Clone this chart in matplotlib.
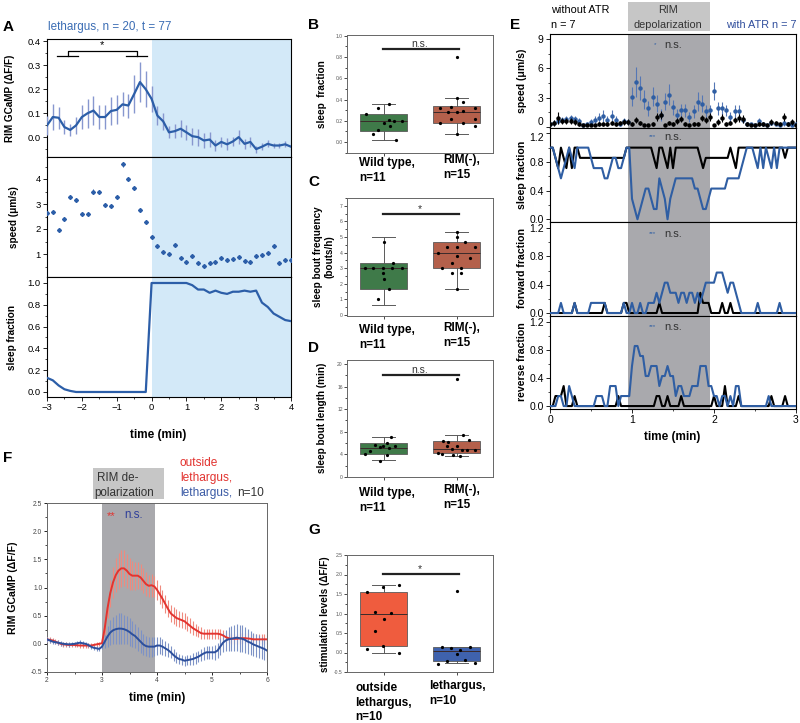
import numpy as np
import matplotlib
matplotlib.use("Agg")
import matplotlib.pyplot as plt
from matplotlib.ticker import MultipleLocator
from matplotlib.patches import Rectangle
import matplotlib.transforms as mtrans

plt.rcParams['font.family'] = ['Liberation Sans', 'DejaVu Sans']
plt.rcParams['axes.linewidth'] = 0.8
plt.rcParams['xtick.major.size'] = 3
plt.rcParams['ytick.major.size'] = 3
plt.rcParams['xtick.minor.size'] = 1.6
plt.rcParams['ytick.minor.size'] = 1.6
plt.rcParams['xtick.major.width'] = 0.6
plt.rcParams['ytick.major.width'] = 0.6
plt.rcParams['xtick.minor.width'] = 0.5
plt.rcParams['ytick.minor.width'] = 0.5

# ---------------- data ----------------
# Panel A (10 s bins, -3 .. 4 min)
time_A = np.arange(-18, 25) / 6.0
gcamp_A = [0.049, 0.084, 0.081, 0.042, 0.03, 0.049, 0.084, 0.10, 0.111, 0.084,
           0.084, 0.109, 0.114, 0.137, 0.132, 0.18, 0.23, 0.20, 0.16, 0.09,
           0.066, 0.02, 0.025, 0.035, 0.02, 0.004, 0.0, -0.014, -0.01, -0.035,
           -0.02, -0.03, -0.018, 0.0, -0.028, -0.02, -0.05, -0.04, -0.028, -0.035,
           -0.035, -0.03, -0.04]
gcamp_err_A = [0.04, 0.055, 0.045, 0.03, 0.025, 0.035, 0.05, 0.06, 0.06, 0.05,
               0.05, 0.06, 0.06, 0.05, 0.05, 0.08, 0.085, 0.075, 0.055, 0.04,
               0.035, 0.025, 0.03, 0.035, 0.03, 0.035, 0.035, 0.03, 0.03, 0.025,
               0.02, 0.025, 0.02, 0.03, 0.02, 0.02, 0.015, 0.015, 0.015, 0.012,
               0.012, 0.012, 0.012]
speed_A = [2.63, 2.67, 1.95, 2.41, 3.30, 3.17, 2.60, 2.60, 3.50, 3.48,
           2.96, 2.92, 3.30, 4.59, 4.00, 3.66, 2.75, 2.29, 1.67, 1.31,
           1.08, 0.99, 1.35, 0.85, 0.70, 0.91, 0.65, 0.54, 0.63, 0.70,
           0.84, 0.78, 0.81, 0.88, 0.74, 0.68, 0.93, 0.95, 1.05, 1.31,
           0.66, 0.78, 0.78]
speed_err_A = [0.08, 0.07, 0.07, 0.07, 0.08, 0.08, 0.07, 0.07, 0.09, 0.09,
               0.07, 0.07, 0.08, 0.10, 0.09, 0.08, 0.07, 0.06, 0.05, 0.04,
               0.04, 0.04, 0.05, 0.04, 0.03, 0.04, 0.03, 0.03, 0.03, 0.03,
               0.03, 0.03, 0.03, 0.04, 0.03, 0.03, 0.04, 0.04, 0.04, 0.06,
               0.03, 0.03, 0.03]
sleep_A = [0.13, 0.107, 0.06, 0.025, 0.01, 0, 0, 0, 0, 0,
           0, 0, 0, 0, 0, 0, 0, 0, 1.0, 1.0,
           1.0, 1.0, 1.0, 1.0, 1.0, 0.98, 0.94, 0.94, 0.91, 0.93,
           0.91, 0.90, 0.92, 0.92, 0.93, 0.92, 0.93, 0.82, 0.78, 0.72,
           0.69, 0.66, 0.65]
sig_A_left = [-2.71, -2.11]
sig_A_right = [-0.73, -0.13]
sig_A_y = [0.34, 0.36]

# Panels B, C, D (Wild type vs RIM(-)), G (outside lethargus vs lethargus)
groups_BCD = ["Wild type,\nn=11", "RIM(-),\nn=15"]
groups_G = ["outside\nlethargus,\nn=10", "lethargus,\nn=10"]

wt_B = [0.26, 0.32, 0.36, 0.08, 0.11, 0.18, 0.21, 0.02, 0.20, 0.15, 0.20]
rim_B = [0.32, 0.33, 0.38, 0.32, 0.18, 0.22, 0.28, 0.29, 0.18, 0.22, 0.15, 0.08, 0.80, 0.28, 0.41]
box_B = [dict(q1=0.10, med=0.20, q3=0.26, whislo=0.02, whishi=0.36),
         dict(q1=0.18, med=0.28, q3=0.34, whislo=0.08, whishi=0.41)]

wt_C = [4.67, 3.33, 3.0, 3.0, 3.0, 3.0, 3.0, 2.67, 2.33, 1.67, 1.0]
rim_C = [5.33, 5.0, 4.67, 4.33, 4.33, 4.33, 4.0, 3.78, 3.67, 3.33, 3.0, 3.0, 2.67, 2.67, 1.67]
box_C = [dict(q1=1.67, med=3.0, q3=3.33, whislo=0.67, whishi=5.0),
         dict(q1=3.0, med=4.0, q3=4.67, whislo=1.67, whishi=5.33)]

wt_D = [7.0, 4.15, 4.6, 5.6, 5.3, 5.45, 6.05, 5.2, 5.55, 2.85, 3.85]
rim_D = [7.4, 6.35, 6.2, 6.5, 5.4, 5.0, 5.4, 4.75, 4.75, 4.75, 4.2, 4.0, 3.9, 3.7, 17.3]
box_D = [dict(q1=4.1, med=5.2, q3=6.1, whislo=3.0, whishi=7.1),
         dict(q1=4.2, med=5.0, q3=6.4, whislo=3.7, whishi=7.5)]

out_G = [1.73, 1.69, 1.55, 1.03, 1.01, 0.86, 0.54, 0.17, 0.08, 0.0]
leth_G = [0.15, 0.12, 0.15, 0.06, -0.03, -0.18, -0.23, -0.29, -0.27, 1.58]
box_G = [dict(q1=0.17, med=1.0, q3=1.55, whislo=0.0, whishi=1.73),
         dict(q1=-0.21, med=0.03, q3=0.15, whislo=-0.27, whishi=0.15)]

sig_B, sig_C, sig_D, sig_G = 0.88, 6.45, 18.1, 2.02

# Panel E: speed (3 s bins) and fractions (2 s bins, counts out of n = 7)
time_E_speed = np.arange(61) * 0.05
time_E_frac = np.arange(91) / 30.0
n_E = 7
speed_atr = [0.3, 0.4, 0.6, 0.7, 0.8, 0.9, 0.8, 0.6, 0.2, 0.3,
             0.55, 0.7, 0.9, 1.1, 0.7, 1.1, 0.7, 0.3, 0.6, 0.5,
             3.1, 4.6, 4.0, 2.8, 1.9, 3.1, 2.4, 1.2, 2.6, 3.3,
             2.0, 1.2, 1.7, 1.7, 1.0, 1.6, 2.6, 2.4, 1.6, 1.7,
             3.7, 1.9, 1.9, 1.7, 1.0, 1.6, 1.6, 0.7, 0.3, 0.3,
             0.2, 0.6, 0.3, 0.2, 0.4, 0.3, 0.2, 0.45, 0.3, 0.2, 0.3]
speed_atr_err = [0.2, 0.3, 0.3, 0.3, 0.3, 0.3, 0.3, 0.3, 0.1, 0.2,
                 0.3, 0.4, 0.5, 0.6, 0.4, 0.6, 0.4, 0.2, 0.3, 0.3,
                 1.0, 1.5, 1.2, 1.0, 0.8, 1.0, 0.9, 0.6, 0.9, 1.1,
                 0.8, 0.6, 0.7, 0.7, 0.5, 0.7, 1.0, 0.9, 0.6, 0.6,
                 0.9, 0.7, 0.7, 0.6, 0.5, 0.6, 0.6, 0.3, 0.1, 0.1,
                 0.1, 0.3, 0.1, 0.1, 0.2, 0.1, 0.1, 0.3, 0.1, 0.1, 0.1]
speed_noatr = [0.3, 0.4, 0.9, 0.6, 0.6, 0.6, 0.5, 0.3, 0.2, 0.2,
               0.2, 0.2, 0.3, 0.3, 0.3, 0.4, 0.3, 0.4, 0.5, 0.5,
               0.3, 0.7, 0.4, 0.2, 0.2, 0.3, 1.0, 1.2, 0.2, 0.4,
               0.3, 0.6, 0.8, 0.3, 0.2, 0.3, 0.3, 0.9, 0.7, 1.0,
               0.2, 0.5, 0.9, 0.3, 0.4, 0.7, 0.9, 0.8, 0.3, 0.2,
               0.2, 0.3, 0.3, 0.2, 0.5, 0.4, 0.3, 1.0, 0.3, 0.5, 0.2]
speed_noatr_err = [0.2, 0.3, 0.6, 0.3, 0.3, 0.3, 0.3, 0.2, 0.1, 0.1,
                   0.1, 0.1, 0.2, 0.2, 0.2, 0.2, 0.2, 0.2, 0.3, 0.3,
                   0.2, 0.3, 0.2, 0.1, 0.1, 0.2, 0.4, 0.4, 0.1, 0.2,
                   0.2, 0.3, 0.3, 0.2, 0.1, 0.2, 0.2, 0.3, 0.3, 0.4,
                   0.1, 0.3, 0.4, 0.2, 0.2, 0.3, 0.4, 0.4, 0.2, 0.1,
                   0.1, 0.2, 0.2, 0.1, 0.3, 0.2, 0.2, 0.4, 0.2, 0.3, 0.1]
sleep_noatr_n = [7, 7, 6, 5, 7, 6, 5, 7, 5, 7,
                 7, 6, 6, 6, 6, 6, 6, 6, 6, 6,
                 6, 6, 6, 6, 6, 6, 6, 6, 7, 7,
                 7, 7, 7, 7, 7, 7, 7, 7, 6, 5,
                 7, 7, 6, 5, 7, 5, 7, 7, 7, 7,
                 7, 7, 7, 7, 7, 6, 5, 6, 6, 6,
                 6, 6, 6, 6, 6, 6, 7, 6, 5, 7,
                 7, 7, 7, 7, 7, 7, 7, 7, 7, 7,
                 7, 7, 7, 7, 7, 7, 6, 7, 7, 7, 7]
sleep_atr_n = [7, 7, 6, 5, 4, 5, 6, 7, 6, 5,
               7, 7, 7, 7, 7, 6, 5, 5, 5, 5,
               4, 4, 5, 6, 6, 5, 5, 6, 7, 7,
               2, 1, 0, 1, 2, 3, 3, 2, 1, 1,
               4, 3, 2, 0, 2, 3, 4, 4, 4, 4,
               4, 4, 4, 3, 3, 2, 1, 1, 2, 3,
               3, 3, 3, 3, 3, 4, 4, 4, 4, 4,
               5, 6, 7, 7, 7, 6, 5, 7, 5, 7,
               6, 5, 7, 5, 7, 7, 7, 7, 7, 7, 7]
fwd_noatr_n = [0, 0, 0, 0, 0, 0, 0, 0, 0, 1,
               0, 0, 0, 0, 0, 0, 0, 0, 0, 0,
               1, 0, 0, 0, 0, 0, 0, 1, 1, 0,
               0, 0, 0, 0, 0, 0, 0, 0, 0, 0,
               1, 0, 0, 0, 0, 0, 0, 0, 0, 0,
               0, 0, 0, 0, 0, 2, 1, 1, 1, 0,
               0, 0, 0, 1, 0, 0, 1, 0, 0, 0,
               0, 0, 0, 0, 0, 0, 0, 0, 0, 0,
               0, 0, 0, 0, 0, 0, 0, 0, 0, 0, 0]
fwd_atr_n = [0, 0, 0, 0, 1, 0, 0, 0, 0, 1,
             0, 0, 0, 0, 0, 1, 1, 1, 1, 1,
             1, 0, 0, 0, 0, 0, 0, 1, 0, 0,
             1, 0, 0, 1, 0, 0, 1, 1, 1, 2,
             1, 2, 3, 3, 2, 2, 2, 1, 2, 2,
             1, 2, 2, 1, 2, 1, 2, 3, 3, 3,
             3, 4, 4, 4, 3, 2, 3, 3, 2, 1,
             0, 0, 0, 0, 0, 0, 1, 0, 0, 0,
             0, 0, 0, 0, 1, 0, 0, 0, 0, 0, 0]
rev_noatr_n = [0, 0, 1, 1, 1, 2, 0, 0, 0, 1,
               0, 0, 0, 0, 0, 0, 0, 0, 0, 0,
               0, 0, 0, 0, 0, 1, 0, 0, 0, 0,
               0, 0, 0, 0, 0, 0, 0, 0, 0, 1,
               1, 0, 0, 1, 0, 0, 0, 0, 1, 0,
               0, 0, 0, 0, 0, 0, 0, 0, 0, 0,
               1, 0, 0, 0, 2, 0, 0, 0, 0, 1,
               0, 0, 0, 0, 0, 0, 0, 0, 0, 0,
               0, 1, 0, 0, 0, 0, 1, 0, 0, 0, 0]
rev_atr_n = [0, 0, 0, 1, 1, 0, 0, 2, 1, 0,
             0, 0, 0, 0, 0, 0, 0, 1, 1, 1,
             0, 0, 2, 2, 2, 0, 1, 1, 1, 1,
             4, 6, 6, 5, 5, 3, 3, 4, 4, 4,
             2, 3, 3, 4, 3, 3, 1, 2, 2, 1,
             1, 1, 2, 2, 2, 4, 4, 4, 2, 2,
             1, 1, 0, 1, 1, 0, 1, 0, 2, 2,
             0, 0, 0, 0, 0, 0, 0, 0, 0, 0,
             1, 0, 0, 0, 0, 0, 0, 0, 0, 0, 0]
stim_E = [0.95, 1.95]
speed_ticks_E = [0, 3, 6, 9]
frac_ticks_E = [0.0, 0.4, 0.8, 1.2]

# Panel F (3 s bins, 2 .. 6 min)
time_F = np.round(np.arange(81) * 0.05 + 2.0, 3)
gcamp_out = [0.08, 0.07, 0.06, 0.04, 0.02, 0.00, -0.01, -0.015, -0.02, -0.02,
             -0.02, -0.025, -0.03, -0.03, -0.03, -0.03, -0.03, -0.02, -0.01, 0.0,
             0.01, 0.28, 0.63, 0.90, 1.09, 1.22, 1.30, 1.34, 1.34, 1.30,
             1.24, 1.21, 1.21, 1.21, 1.18, 1.12, 1.06, 1.03, 1.04, 1.02,
             0.96, 0.88, 0.80, 0.71, 0.62, 0.54, 0.50, 0.46, 0.44, 0.42,
             0.40, 0.36, 0.32, 0.28, 0.25, 0.22, 0.19, 0.18, 0.18, 0.18,
             0.18, 0.18, 0.18, 0.17, 0.15, 0.12, 0.10, 0.09, 0.09, 0.09,
             0.095, 0.10, 0.10, 0.095, 0.09, 0.08, 0.08, 0.08, 0.08, 0.08, 0.08]
gcamp_out_err = [0.05, 0.05, 0.05, 0.04, 0.04, 0.04, 0.04, 0.04, 0.04, 0.04,
                 0.04, 0.04, 0.04, 0.04, 0.04, 0.04, 0.04, 0.04, 0.04, 0.04,
                 0.05, 0.12, 0.18, 0.24, 0.28, 0.30, 0.32, 0.33, 0.32, 0.30,
                 0.28, 0.26, 0.25, 0.24, 0.23, 0.22, 0.21, 0.20, 0.20, 0.19,
                 0.18, 0.17, 0.16, 0.16, 0.15, 0.15, 0.15, 0.15, 0.14, 0.14,
                 0.14, 0.13, 0.13, 0.12, 0.11, 0.10, 0.10, 0.09, 0.09, 0.09,
                 0.09, 0.09, 0.09, 0.09, 0.09, 0.09, 0.09, 0.09, 0.09, 0.09,
                 0.09, 0.09, 0.09, 0.09, 0.09, 0.09, 0.09, 0.09, 0.09, 0.09, 0.09]
gcamp_leth = [0.08, 0.06, 0.04, 0.03, 0.02, 0.01, 0.0, -0.005, -0.01, -0.005,
              0.0, 0.01, 0.02, 0.01, 0.0, -0.02, -0.05, -0.07, -0.08, -0.09,
              -0.05, 0.04, 0.13, 0.20, 0.24, 0.26, 0.27, 0.27, 0.26, 0.24,
              0.21, 0.17, 0.14, 0.09, 0.04, -0.01, -0.04, -0.05, -0.05, -0.05,
              -0.03, -0.03, -0.05, -0.08, -0.11, -0.15, -0.20, -0.24, -0.27, -0.28,
              -0.30, -0.29, -0.28, -0.27, -0.25, -0.23, -0.20, -0.17, -0.15, -0.15,
              -0.15, -0.15, -0.12, -0.05, 0.02, 0.06, 0.08, 0.09, 0.10, 0.11,
              0.10, 0.09, 0.07, 0.04, 0.02, -0.01, -0.03, -0.05, -0.07, -0.09, -0.12]
gcamp_leth_err = [0.05, 0.05, 0.05, 0.04, 0.04, 0.04, 0.04, 0.04, 0.04, 0.04,
                  0.04, 0.04, 0.04, 0.04, 0.04, 0.04, 0.04, 0.04, 0.04, 0.04,
                  0.05, 0.12, 0.18, 0.22, 0.24, 0.26, 0.27, 0.27, 0.26, 0.25,
                  0.24, 0.23, 0.22, 0.21, 0.20, 0.19, 0.18, 0.18, 0.18, 0.17,
                  0.16, 0.15, 0.14, 0.13, 0.12, 0.11, 0.10, 0.10, 0.09, 0.09,
                  0.09, 0.09, 0.09, 0.10, 0.10, 0.10, 0.11, 0.11, 0.12, 0.12,
                  0.12, 0.13, 0.14, 0.15, 0.17, 0.19, 0.21, 0.22, 0.23, 0.24,
                  0.24, 0.24, 0.23, 0.22, 0.21, 0.21, 0.20, 0.20, 0.20, 0.20, 0.20]
stim_F = [3.0, 3.97]

# ---------------- styles ----------------
BLUE_A = '#2c5ea8'
ERR_A = '#8797cf'
SHADE_A = '#d3e9f8'
GRAY = '#a9a9ad'
HDR_GRAY = '#c6c6c6'
E_BLUE = '#2f5ea3'
RED_F = '#e3342f'
RED_ERR = '#ef8a7e'
BLUE_F = '#2c4f9c'
BLUE_ERR = '#7d92c6'
GREEN_BOX = '#3f7a49'
BROWN_BOX = '#b4604b'
ORANGE_BOX = '#ef5c3e'
BLUEBOX = '#3f62ad'

W, H = 800, 723
fig = plt.figure(figsize=(W / 100, H / 100), dpi=100)


def add_ax(x0, y0, x1, y1):
    return fig.add_axes([x0 / W, 1 - y1 / H, (x1 - x0) / W, (y1 - y0) / H])


def ftext(x, y, s, **kw):
    return fig.text(x / W, 1 - y / H, s, **kw)


def letter(x, y, s):
    ftext(x, y, s, fontsize=11, fontweight='bold', ha='left', va='center')


def ylab(x, y, s, size=7.5, **kw):
    ftext(x, y, s, fontsize=size, fontweight='bold', rotation=90,
          ha='center', va='center', **kw)


# ================= Panel A =================
axA1 = add_ax(47, 39, 291, 157)
axA2 = add_ax(47, 157, 291, 277)
axA3 = add_ax(47, 277, 291, 397)
for ax in (axA1, axA2, axA3):
    ax.axvspan(0, 4, color=SHADE_A, lw=0, zorder=0)
    ax.set_xlim(-3, 4)
    ax.tick_params(labelsize=6.8, pad=1.5)
    ax.xaxis.set_major_locator(MultipleLocator(1))
    ax.xaxis.set_minor_locator(MultipleLocator(0.5))
for ax in (axA1, axA2):
    ax.tick_params(axis='x', which='both', bottom=False, labelbottom=False)

axA1.errorbar(time_A, gcamp_A, yerr=gcamp_err_A, color=BLUE_A, lw=1.6,
              ecolor=ERR_A, elinewidth=1.0, capsize=0, zorder=3)
axA1.set_ylim(-0.083, 0.41)
axA1.yaxis.set_major_locator(MultipleLocator(0.1))
axA1.yaxis.set_minor_locator(MultipleLocator(0.05))
axA1.yaxis.set_major_formatter(matplotlib.ticker.FormatStrFormatter('%.1f'))
axA1.plot(sig_A_left, [sig_A_y[0]] * 2, color='black', lw=0.9)
axA1.plot(sig_A_right, [sig_A_y[0]] * 2, color='black', lw=0.9)
lc = np.mean(sig_A_left)
rc = np.mean(sig_A_right)
axA1.plot([lc, lc, rc, rc], [sig_A_y[0], sig_A_y[1], sig_A_y[1], sig_A_y[0]],
          color='black', lw=0.9)
axA1.text((lc + rc) / 2, sig_A_y[1] + 0.005, '*', ha='center', va='bottom', fontsize=8)

axA2.errorbar(time_A, speed_A, yerr=speed_err_A, fmt='D', ms=2.0, color=BLUE_A,
              ecolor=BLUE_A, elinewidth=0.7, capsize=0, zorder=3)
axA2.set_ylim(0.08, 4.88)
axA2.yaxis.set_major_locator(MultipleLocator(1))
axA2.yaxis.set_minor_locator(MultipleLocator(0.5))

axA3.plot(time_A, sleep_A, color=BLUE_A, lw=1.6, zorder=3)
axA3.set_ylim(-0.046, 1.055)
axA3.yaxis.set_major_locator(MultipleLocator(0.2))
axA3.yaxis.set_minor_locator(MultipleLocator(0.1))
axA3.yaxis.set_major_formatter(matplotlib.ticker.FormatStrFormatter('%.1f'))

letter(3, 27, 'A')
ftext(48, 27, 'lethargus, n = 20, t = 77', color='#3b6db4', fontsize=8.4,
      ha='left', va='center')
ylab(10, 98, 'RIM GCaMP (\u0394F/F)', size=7.2)
ylab(14, 217, 'speed (\u03bcm/s)', size=7.2)
ylab(12, 337, 'sleep fraction', size=7.2)
ftext(158, 435, 'time (min)', fontsize=8.5, fontweight='bold', ha='center', va='center')


# ================= Box panels =================
off_wt_B = [-0.24, -0.07, 0.08, -0.14, -0.08, 0.0, 0.07, 0.17, 0.14, 0.09, 0.25]
off_rim_B = [-0.23, -0.08, 0.09, 0.25, -0.23, -0.07, 0.01, 0.09, 0.09, 0.25, 0.25, 0.01, 0.01, -0.11, 0.01]
off_wt_C = [0.0, 0.13, -0.25, -0.14, -0.01, 0.11, 0.25, -0.01, 0.0, 0.07, -0.07]
off_rim_C = [0.0, 0.0, 0.12, -0.13, 0.0, 0.25, -0.26, 0.0, 0.19, -0.06, -0.2, 0.06, -0.06, 0.06, 0.0]
off_wt_D = [0.10, -0.25, -0.18, -0.11, -0.05, -0.01, 0.05, 0.07, 0.16, -0.05, 0.05]
off_rim_D = [0.09, -0.18, -0.11, 0.17, -0.13, -0.06, 0.0, 0.07, 0.15, 0.25, -0.26, -0.2, -0.05, 0.05, 0.0]
off_out_G = [0.21, -0.01, -0.23, -0.11, 0.1, 0.0, -0.11, -0.01, -0.22, 0.21]
off_leth_G = [-0.2, -0.07, 0.18, 0.05, 0.0, 0.12, -0.13, -0.26, 0.25, 0.0]


def box_panel(ax, stats, colors, pts, offs, ylim, major, minor, fmt, sig, sigtext):
    ax.bxp(stats, positions=[1, 2], widths=0.64, capwidths=0.32, patch_artist=True,
           showfliers=False,
           boxprops=dict(edgecolor='#5a5a5a', linewidth=0.6),
           whiskerprops=dict(color='#5a5a5a', linewidth=0.7),
           capprops=dict(color='#5a5a5a', linewidth=0.7),
           medianprops=dict(color='#3a2a2a', linewidth=0.7))
    for patch, c in zip(ax.patches, colors):
        patch.set_facecolor(c)
    for i, (p, o) in enumerate(zip(pts, offs)):
        ax.plot(np.array(o) + i + 1, p, 'o', ms=1.3, color='black', zorder=4)
    ax.set_xlim(0.5, 2.5)
    ax.set_ylim(*ylim)
    ax.set_xticks([1, 2])
    ax.set_xticklabels(['', ''])
    ax.yaxis.set_major_locator(MultipleLocator(major))
    ax.yaxis.set_minor_locator(MultipleLocator(minor))
    ax.yaxis.set_major_formatter(matplotlib.ticker.FormatStrFormatter(fmt))
    ax.tick_params(labelsize=3.6, labelcolor='#555555', length=2, width=0.5, pad=1)
    ax.tick_params(which='minor', length=1.2)
    for s in ax.spines.values():
        s.set_color('#666666')
        s.set_linewidth(0.7)
    ax.plot([0.99, 2.03], [sig, sig], color='#222222', lw=1.6)
    ax.text(1.5, sig, sigtext, ha='center', va='bottom', fontsize=7.5, color='#333333')


axB = add_ax(347, 35, 493, 153)
box_panel(axB, box_B, [GREEN_BOX, BROWN_BOX], [wt_B, rim_B], [off_wt_B, off_rim_B],
          (-0.103, 1.007), 0.2, 0.1, '%.1f', sig_B, 'n.s.')
axC = add_ax(347, 198, 493, 316)
box_panel(axC, box_C, [GREEN_BOX, BROWN_BOX], [wt_C, rim_C], [off_wt_C, off_rim_C],
          (-0.06, 7.5), 1, 0.5, '%d', sig_C, '*')
axD = add_ax(347, 360, 493, 477)
box_panel(axD, box_D, [GREEN_BOX, BROWN_BOX], [wt_D, rim_D], [off_wt_D, off_rim_D],
          (0, 20.7), 4, 2, '%d', sig_D, 'n.s.')
axG = add_ax(347, 555, 493, 672)
box_panel(axG, box_G, [ORANGE_BOX, BLUEBOX], [out_G, leth_G], [off_out_G, off_leth_G],
          (-0.5, 2.5), 0.5, 0.25, '%.1f', sig_G, '*')

lab_kw = dict(fontsize=8.5, fontweight='bold', ha='left', va='top', linespacing=1.3)
for (wt_top, rim_top) in [(157, 154), (324, 322), (487, 484)]:
    ftext(359, wt_top, groups_BCD[0], **lab_kw)
    ftext(443, rim_top, groups_BCD[1], **lab_kw)
ftext(355, 682, groups_G[0], **lab_kw)
ftext(429, 680, groups_G[1], **lab_kw)

letter(308, 25, 'B')
letter(308, 182, 'C')
letter(308, 348, 'D')
letter(308, 530, 'G')
ylab(322, 94, 'sleep  fraction', size=7.2)
ylab(324, 257, 'sleep bout frequency\n(bouts/h)', size=7.2)
ylab(322, 418, 'sleep bout length (min)', size=7.2)
ylab(325, 614, 'stimulation levels (\u0394F/F)', size=7.2)


# ================= Panel E =================
axE1 = add_ax(550, 34, 796, 128)
axE2 = add_ax(550, 128, 796, 222)
axE3 = add_ax(550, 222, 796, 316)
axE4 = add_ax(550, 316, 796, 409)
for ax in (axE1, axE2, axE3, axE4):
    ax.axvspan(stim_E[0], stim_E[1], color=GRAY, lw=0, zorder=0)
    ax.set_xlim(0, 3)
    ax.xaxis.set_major_locator(MultipleLocator(1))
    ax.xaxis.set_minor_locator(MultipleLocator(0.5))
    ax.tick_params(labelsize=7.5, pad=1.5)
for ax in (axE1, axE2, axE3):
    ax.tick_params(axis='x', which='both', bottom=False, labelbottom=False)

axE1.errorbar(time_E_speed, speed_atr, yerr=speed_atr_err, fmt='o', ms=2.2,
              color=E_BLUE, ecolor='#5577b5', elinewidth=0.8, capsize=0, zorder=3)
axE1.errorbar(time_E_speed, speed_noatr, yerr=speed_noatr_err, fmt='o', ms=2.2,
              color='black', ecolor='black', elinewidth=0.8, capsize=0, zorder=4)
axE1.set_ylim(-0.1, 9.5)
axE1.set_yticks(speed_ticks_E)
axE1.set_yticklabels([str(v) for v in speed_ticks_E])
axE1.yaxis.set_minor_locator(MultipleLocator(1.5))
axE1.get_yticklabels()[0].set_verticalalignment('bottom')

frac_sets = [(axE2, sleep_atr_n, sleep_noatr_n, (-0.038, 1.274)),
             (axE3, fwd_atr_n, fwd_noatr_n, (-0.042, 1.285)),
             (axE4, rev_atr_n, rev_noatr_n, (-0.042, 1.285))]
for ax, atr, noatr, yl in frac_sets:
    ax.plot(time_E_frac, np.array(noatr) / n_E, color='black', lw=1.5, zorder=3)
    ax.plot(time_E_frac, np.array(atr) / n_E, color=E_BLUE, lw=1.5, zorder=4)
    ax.set_ylim(*yl)
    ax.set_yticks(frac_ticks_E)
    ax.set_yticklabels(['%.1f' % v for v in frac_ticks_E])
    ax.yaxis.set_minor_locator(MultipleLocator(0.2))
axE2.get_yticklabels()[-1].set_verticalalignment('top')

# stats annotations in E
for (y, stars) in [(45, '*'), (137, '***'), (234, '***'), (327, '***')]:
    ftext(656, y, stars, color=E_BLUE, fontsize=4.5, ha='right', va='center')
    ftext(664, y, 'n.s.', color='#333333', fontsize=8, ha='left', va='center')

# header
trE = mtrans.blended_transform_factory(axE1.transData, axE1.transAxes)
axE1.add_patch(Rectangle((stim_E[0], 1.03), stim_E[1] - stim_E[0], 0.31,
                         transform=trE, clip_on=False, color=HDR_GRAY, lw=0))
ftext(668, 10, 'RIM', fontsize=7.8, ha='center', va='center', color='#333333')
ftext(668, 25, 'depolarization', fontsize=7.8, ha='center', va='center', color='#333333')
ftext(551, 10, 'without ATR', fontsize=7.8, ha='left', va='center')
ftext(551, 25, 'n = 7', fontsize=7.8, ha='left', va='center')
ftext(797, 25, 'with ATR n = 7', fontsize=7.8, ha='right', va='center', color='#2f4d9c')

letter(510, 25, 'E')
ylab(522, 81, 'speed (\u03bcm/s)', size=7.6)
ylab(522, 175, 'sleep fraction', size=7.6)
ylab(522, 268, 'forward fraction', size=7.6)
ylab(522, 362, 'reverse fraction', size=7.6)
ftext(672, 437, 'time (min)', fontsize=8.5, fontweight='bold', ha='center', va='center')


# ================= Panel F =================
axF = add_ax(47, 503, 267, 672)
axF.axvspan(stim_F[0], stim_F[1], color=GRAY, lw=0, zorder=0)
axF.errorbar(time_F, gcamp_out, yerr=gcamp_out_err, color=RED_F, lw=1.4,
             ecolor=RED_ERR, elinewidth=0.8, capsize=0, zorder=3)
axF.errorbar(time_F, gcamp_leth, yerr=gcamp_leth_err, color=BLUE_F, lw=1.4,
             ecolor=BLUE_ERR, elinewidth=0.8, capsize=0, zorder=3)
axF.set_xlim(2, 6)
axF.set_ylim(-0.5, 2.5)
axF.xaxis.set_major_locator(MultipleLocator(1))
axF.xaxis.set_minor_locator(MultipleLocator(0.5))
axF.yaxis.set_major_locator(MultipleLocator(0.5))
axF.yaxis.set_minor_locator(MultipleLocator(0.25))
axF.yaxis.set_major_formatter(matplotlib.ticker.FormatStrFormatter('%.1f'))
axF.tick_params(labelsize=4.8, labelcolor='#444444', length=2.2, pad=1.2)
axF.tick_params(which='minor', length=1.3)
for s in axF.spines.values():
    s.set_color('#666666')
    s.set_linewidth(0.7)

fig.patches.append(Rectangle((93 / W, 1 - 499 / H), 71 / W, 31 / H,
                             transform=fig.transFigure, color=HDR_GRAY, lw=0))
ftext(97, 478, 'RIM de-', fontsize=8.4, ha='left', va='center', color='#333333')
ftext(94, 493, 'polarization', fontsize=8.4, ha='left', va='center', color='#333333')
ftext(180, 463, 'outside', fontsize=8.6, ha='left', va='center', color='#e2332f')
ftext(180, 478, 'lethargus,', fontsize=8.6, ha='left', va='center', color='#e2332f')
ftext(180, 493, 'lethargus,', fontsize=8.6, ha='left', va='center', color='#3a5aa5')
ftext(237, 493, 'n=10', fontsize=8.6, ha='left', va='center', color='#333333')
ftext(107, 516, '**', fontsize=8, ha='left', va='center', color='#e2332f')
ftext(124, 515, 'n.s.', fontsize=8.4, ha='left', va='center', color='#2f3f9a')
letter(3, 458, 'F')
ylab(13, 588, 'RIM GCaMP (\u0394F/F)', size=7.6)
ftext(157, 698, 'time (min)', fontsize=8.5, fontweight='bold', ha='center', va='center')

fig.savefig('out.png', dpi=100)
